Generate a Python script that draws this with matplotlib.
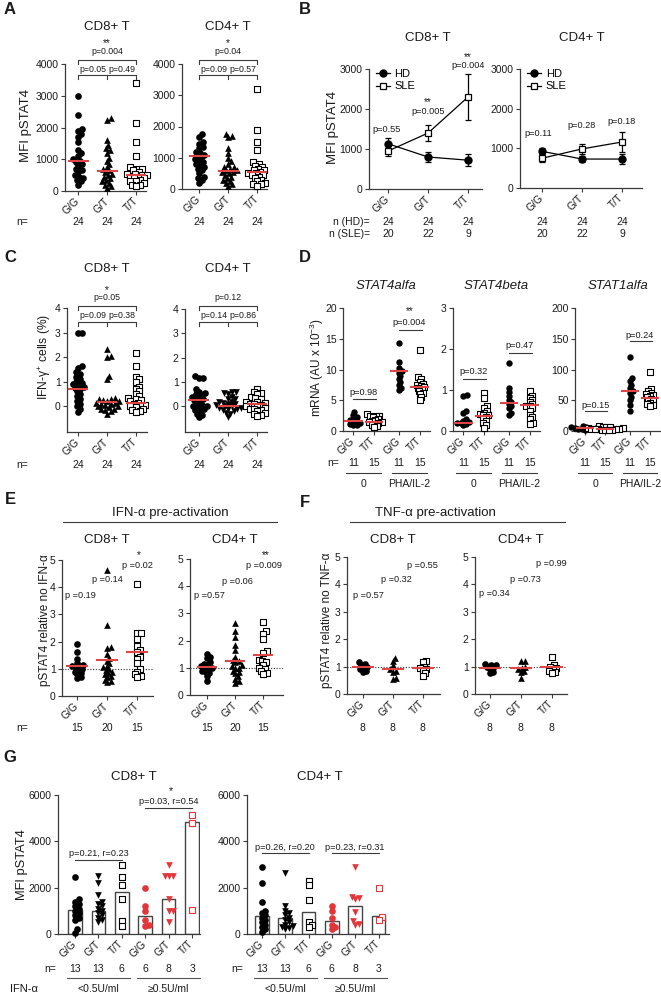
import numpy as np
import matplotlib
matplotlib.use('Agg')
import matplotlib.pyplot as plt
from matplotlib.transforms import blended_transform_factory
from matplotlib.lines import Line2D

plt.rcParams['font.family'] = ['Liberation Sans', 'DejaVu Sans']
plt.rcParams['mathtext.fontset'] = 'custom'
plt.rcParams['mathtext.rm'] = 'Liberation Sans'
plt.rcParams['mathtext.it'] = 'Liberation Sans:italic'

# ------------------------------------------------------------------ DATA
genotypes = ['G/G', 'G/T', 'T/T']

# Panel A : MFI pSTAT4 (HD)
a_cd8_gg = [3000, 2400, 1950, 1900, 1800, 1700, 1550, 1300, 1200, 1100, 1000, 950,
            900, 850, 800, 700, 650, 600, 500, 450, 400, 350, 300, 200]
a_cd8_gt = [2300, 2250, 1600, 1450, 1350, 1300, 1200, 1050, 950, 850, 750, 700,
            650, 600, 550, 500, 450, 400, 350, 300, 250, 200, 150, 100]
a_cd8_tt = [3400, 2150, 1550, 1100, 750, 700, 700, 650, 600, 550, 550, 500,
            500, 450, 450, 400, 400, 350, 300, 300, 250, 200, 200, 150]
a_cd8_med = [930, 620, 500]
a_cd4_gg = [1750, 1650, 1500, 1450, 1350, 1300, 1200, 1150, 1100, 1050, 1000, 950,
            900, 850, 800, 750, 700, 650, 600, 500, 400, 350, 300, 200]
a_cd4_gt = [1750, 1700, 1650, 1300, 1150, 1000, 900, 800, 700, 700, 650, 600,
            600, 550, 550, 500, 450, 400, 350, 300, 250, 200, 150, 100]
a_cd4_tt = [3200, 1900, 1500, 1250, 850, 800, 750, 700, 650, 600, 600, 550,
            500, 500, 450, 450, 400, 350, 300, 250, 200, 150, 150, 100]
a_cd4_med = [1050, 580, 550]
a_n = [24, 24, 24]
a_p_top = ['p=0.004', 'p=0.04']
a_star = ['**', '*']
a_p_low = [['p=0.05', 'p=0.49'], ['p=0.09', 'p=0.57']]

# Panel B : mean +/- SEM
b_cd8_hd = [1130, 800, 720]
b_cd8_hd_err = [150, 120, 150]
b_cd8_sle = [950, 1400, 2300]
b_cd8_sle_err = [130, 190, 580]
b_cd4_hd = [925, 730, 730]
b_cd4_hd_err = [80, 70, 130]
b_cd4_sle = [750, 985, 1160]
b_cd4_sle_err = [100, 130, 260]
b_n_hd = [24, 24, 24]
b_n_sle = [20, 22, 9]
b_cd8_p = ['p=0.55', 'p=0.005', 'p=0.004']
b_cd8_star = ['', '**', '**']
b_cd4_p = ['p=0.11', 'p=0.28', 'p=0.18']

# Panel C : IFN-gamma+ cells (%)
c_cd8_gg = [3.0, 3.0, 1.65, 1.55, 1.4, 1.3, 1.2, 1.1, 1.0, 0.95, 0.9, 0.85,
            0.8, 0.75, 0.7, 0.6, 0.5, 0.4, 0.3, 0.2, 0.1, 0.0, -0.1, -0.25]
c_cd8_gt = [2.35, 2.05, 2.0, 1.25, 1.1, 0.35, 0.3, 0.3, 0.25, 0.2, 0.2, 0.15,
            0.15, 0.1, 0.1, 0.05, 0.0, 0.0, -0.05, -0.1, -0.1, -0.15, -0.2, -0.3]
c_cd8_tt = [2.15, 1.65, 1.2, 1.1, 1.0, 0.8, 0.7, 0.6, 0.5, 0.4, 0.35, 0.3,
            0.25, 0.2, 0.15, 0.1, 0.05, 0.0, 0.0, -0.05, -0.1, -0.15, -0.2, -0.25]
c_cd8_med = [0.72, 0.18, 0.13]
c_cd4_gg = [1.25, 1.15, 1.15, 0.7, 0.6, 0.55, 0.5, 0.45, 0.4, 0.35, 0.3, 0.25,
            0.2, 0.1, 0.05, 0.0, 0.0, -0.05, -0.1, -0.15, -0.2, -0.3, -0.35, -0.45]
c_cd4_gt = [0.6, 0.6, 0.55, 0.5, 0.4, 0.3, 0.3, 0.2, 0.2, 0.15, 0.1, 0.1,
            0.05, 0.0, 0.0, -0.05, -0.05, -0.1, -0.1, -0.15, -0.2, -0.25, -0.3, -0.45]
c_cd4_tt = [0.7, 0.6, 0.55, 0.5, 0.4, 0.35, 0.3, 0.2, 0.2, 0.15, 0.1, 0.1,
            0.05, 0.0, 0.0, -0.05, -0.1, -0.1, -0.15, -0.2, -0.25, -0.3, -0.35, -0.4]
c_cd4_med = [0.27, 0.0, 0.08]
c_n = [24, 24, 24]
c_p_top = ['p=0.05', 'p=0.12']
c_star = ['*', '']
c_p_low = [['p=0.09', 'p=0.38'], ['p=0.14', 'p=0.86']]

# Panel D : mRNA (AU x 10^-3); groups: 0 G/G, 0 T/T, PHA G/G, PHA T/T
d_labels = ['G/G', 'T/T', 'G/G', 'T/T']
d_n = [11, 15, 11, 15]
d_cond = ['0', 'PHA/IL-2']
s4a_groups = [[3.1, 2.6, 2.2, 2.0, 1.8, 1.65, 1.5, 1.3, 1.2, 1.0, 0.9],
              [2.7, 2.5, 2.5, 2.4, 2.2, 2.0, 1.8, 1.6, 1.45, 1.4, 1.3, 1.2, 1.0, 0.8, 0.6],
              [14.3, 11.3, 10.2, 9.8, 9.5, 9.0, 8.5, 8.0, 7.5, 7.0, 6.6],
              [13.2, 8.8, 8.5, 8.0, 7.7, 7.5, 7.3, 7.2, 7.0, 6.8, 6.5, 6.2, 6.0, 5.5, 5.0]]
s4a_med = [1.65, 1.45, 9.8, 7.1]
s4b_groups = [[0.87, 0.85, 0.5, 0.45, 0.3, 0.25, 0.22, 0.2, 0.2, 0.18, 0.15],
              [0.93, 0.8, 0.6, 0.55, 0.5, 0.45, 0.42, 0.4, 0.38, 0.35, 0.3, 0.25, 0.2, 0.15, 0.08],
              [1.65, 1.05, 0.95, 0.85, 0.75, 0.7, 0.65, 0.6, 0.55, 0.45, 0.4],
              [0.97, 0.85, 0.8, 0.75, 0.7, 0.65, 0.62, 0.6, 0.55, 0.5, 0.4, 0.35, 0.3, 0.2, 0.17]]
s4b_med = [0.2, 0.37, 0.68, 0.64]
s1a_groups = [[8, 7, 6, 6, 5, 5, 4, 4, 3, 3, 2],
              [8, 7, 6, 6, 5, 5, 4, 4, 3, 3, 3, 2, 2, 1, 1],
              [121, 86, 82, 75, 70, 65, 62, 55, 50, 42, 32],
              [96, 68, 65, 62, 60, 58, 57, 55, 52, 50, 48, 46, 44, 42, 40]]
s1a_med = [5, 3.5, 65, 53]
d_p = [['p=0.98', 'p=0.004'], ['p=0.32', 'p=0.47'], ['p=0.15', 'p=0.24']]

# Panel E : IFN-alpha pre-activation
e_cd8 = [[1.9, 1.6, 1.35, 1.2, 1.15, 1.1, 1.1, 1.05, 1.0, 0.95, 0.9, 0.85, 0.8, 0.7, 0.65],
         [4.65, 2.6, 1.8, 1.75, 1.55, 1.4, 1.3, 1.2, 1.1, 1.05, 1.0, 0.95, 0.9, 0.85, 0.8,
          0.75, 0.7, 0.6, 0.55, 0.5],
         [4.1, 2.3, 2.3, 2.1, 1.85, 1.7, 1.6, 1.45, 1.35, 1.2, 1.0, 0.9, 0.8, 0.75, 0.7]]
e_cd8_med = [1.1, 1.32, 1.62]
e_cd4 = [[1.5, 1.4, 1.35, 1.2, 1.15, 1.1, 1.05, 1.0, 1.0, 0.95, 0.9, 0.85, 0.8, 0.7, 0.5],
         [2.65, 2.35, 2.15, 1.85, 1.65, 1.4, 1.3, 1.25, 1.2, 1.1, 1.05, 1.0, 1.0, 0.9, 0.85,
          0.8, 0.7, 0.6, 0.5, 0.45],
         [2.7, 2.35, 2.25, 2.05, 1.6, 1.55, 1.3, 1.25, 1.2, 1.1, 1.0, 0.95, 0.9, 0.8, 0.78]]
e_cd4_med = [1.02, 1.26, 1.48]
e_n = [15, 20, 15]
e_cd8_p = ['p =0.19', 'p =0.14', 'p =0.02']
e_cd8_star = ['', '', '*']
e_cd4_p = ['p =0.57', 'p =0.06', 'p =0.009']
e_cd4_star = ['', '', '**']

# Panel F : TNF-alpha pre-activation
f_cd8 = [[1.15, 1.1, 1.05, 1.0, 0.95, 0.9, 0.85, 0.8],
         [1.3, 1.2, 1.05, 0.9, 0.85, 0.8, 0.6, 0.55],
         [1.2, 1.15, 1.0, 0.95, 0.9, 0.85, 0.75, 0.65]]
f_cd8_med = [0.97, 0.9, 0.95]
f_cd4 = [[1.1, 1.05, 1.05, 1.0, 0.95, 0.9, 0.8, 0.75],
         [1.2, 1.2, 1.0, 0.95, 0.9, 0.85, 0.8, 0.6],
         [1.35, 1.05, 1.0, 0.95, 0.9, 0.85, 0.8, 0.75]]
f_cd4_med = [0.96, 0.95, 1.0]
f_n = [8, 8, 8]
f_cd8_p = ['p =0.57', 'p =0.32', 'p =0.55']
f_cd4_p = ['p =0.34', 'p =0.73', 'p =0.99']

# Panel G : by serum IFN-alpha level (3 low + 3 high groups)
g_labels = ['G/G', 'G/T', 'T/T', 'G/G', 'G/T', 'T/T']
g_n = [13, 13, 6, 6, 8, 3]
g_cd8_bar = [1050, 1000, 1800, 780, 1520, 4830]
g_cd8_pts = [[2450, 1500, 1400, 1300, 1200, 1100, 1000, 900, 800, 700, 600, 200, 50],
             [2500, 2200, 1700, 1400, 1300, 1200, 1100, 1000, 900, 800, 700, 600, 500],
             [3000, 2450, 2100, 1500, 550, 350],
             [2000, 1200, 1000, 600, 400, 350],
             [3000, 2500, 2500, 2500, 1500, 1000, 1000, 500],
             [5150, 4800, 1050]]
g_cd4_bar = [780, 680, 950, 560, 1230, 760]
g_cd4_pts = [[2900, 2200, 1400, 1000, 900, 800, 700, 600, 500, 400, 300, 200, 100],
             [2650, 1200, 1000, 900, 800, 700, 600, 500, 400, 350, 300, 250, 200],
             [2300, 2100, 1450, 500, 400, 300],
             [1200, 1000, 700, 400, 300, 200],
             [2900, 1600, 1550, 1500, 950, 550, 450, 400],
             [2000, 750, 620]]
g_cd8_p = ['p=0.21, r=0.23', 'p=0.03, r=0.54']
g_cd8_star = ['', '*']
g_cd4_p = ['p=0.26, r=0.20', 'p=0.23, r=0.31']
g_levels = ['<0.5U/ml', '≥0.5U/ml']

# ------------------------------------------------------------------ STYLE
W, H = 661, 993
fig = plt.figure(figsize=(W / 100, H / 100), dpi=100)
RED = '#e3363a'
MED = '#e04545'
TXT = '#1a1a1a'
AX = '#3a3a3a'
FS_T = 9.5    # titles
FS_K = 7.5    # ticks
FS_P = 6.3    # p-values
FS_N = 7.5    # n rows
FS_Y = 9.0    # y labels


def fx(x): return x / W
def fy(y): return 1 - y / H


def ftext(x, y, s, **kw):
    kw.setdefault('ha', 'center'); kw.setdefault('va', 'center'); kw.setdefault('color', TXT)
    fig.text(fx(x), fy(y), s, **kw)


def fline(xs, ys, **kw):
    kw.setdefault('color', AX); kw.setdefault('lw', 0.8)
    fig.add_artist(Line2D([fx(v) for v in xs], [fy(v) for v in ys], transform=fig.transFigure, **kw))


def bt(ax):
    return blended_transform_factory(ax.transData, fig.transFigure)


def atext(ax, x, y, s, **kw):
    kw.setdefault('ha', 'center'); kw.setdefault('va', 'center'); kw.setdefault('color', TXT)
    ax.text(x, fy(y), s, transform=bt(ax), clip_on=False, **kw)


def aline(ax, xs, ys, **kw):
    kw.setdefault('color', AX); kw.setdefault('lw', 0.8)
    ax.plot(xs, [fy(v) for v in ys], transform=bt(ax), clip_on=False, **kw)


def add_ax(box, xlim, ylim, yticks):
    l, t, r, b = box
    ax = fig.add_axes([l / W, 1 - b / H, (r - l) / W, (b - t) / H])
    ax.set_xlim(xlim); ax.set_ylim(ylim); ax.set_yticks(yticks)
    for s in ['top', 'right']:
        ax.spines[s].set_visible(False)
    for s in ['left', 'bottom']:
        ax.spines[s].set_linewidth(0.9); ax.spines[s].set_color(AX)
    ax.tick_params(axis='both', length=3, width=0.8, color=AX, labelsize=FS_K, pad=1.5,
                   labelcolor=TXT)
    return ax


def set_cats(ax, pos, labels):
    ax.set_xticks(pos)
    ax.set_xticklabels(labels, rotation=45, ha='right', va='center', rotation_mode='anchor',
                       fontsize=FS_K)
    ax.tick_params(axis='x', pad=3)


def swarm(ax, x0, vals, d):
    vals = np.asarray(vals, float)
    disp = ax.transData.transform(np.column_stack([np.full(len(vals), x0), vals]))
    order = np.argsort(disp[:, 1])
    cands = [0.0]
    for k in range(1, 80):
        cands += [k * 0.5, -k * 0.5]
    placed = []
    xo = np.zeros(len(vals))
    for i in order:
        y = disp[i, 1]
        for c in cands:
            if all((c - px) ** 2 + (y - py) ** 2 >= d * d for px, py in placed):
                break
        placed.append((c, y))
        xo[i] = c
    out = ax.transData.inverted().transform(np.column_stack([disp[:, 0] + xo, disp[:, 1]]))
    return out[:, 0]


def dots(ax, x0, vals, marker, color='black', open_=False, ms=4.8, spread=0.6):
    xs = swarm(ax, x0, vals, ms * 100 / 72 * spread)
    if open_:
        ax.scatter(xs, vals, s=ms ** 2, marker=marker, facecolors='white', edgecolors=color,
                   linewidths=0.8, zorder=3, clip_on=False)
    else:
        ax.scatter(xs, vals, s=ms ** 2, marker=marker, color=color, linewidths=0, zorder=3,
                   clip_on=False)


def median(ax, x0, m, hw=0.36):
    ax.plot([x0 - hw, x0 + hw], [m, m], color=MED, lw=1.5, zorder=4, solid_capstyle='butt')


def bracket(ax, xa, xb, y, mids=(), drop=3):
    aline(ax, [xa, xa, xb, xb], [y + drop, y, y, y + drop])
    for m in mids:
        aline(ax, [m, m], [y, y + drop])


def nrow(ax, xs, vals, y):
    for x, v in zip(xs, vals):
        atext(ax, x, y, str(v), fontsize=FS_N)


MARKERS = [('o', False), ('^', False), ('s', True)]

# ------------------------------------------------------------------ PANEL A
ftext(10, 10, 'A', fontsize=12, fontweight='bold')
boxes = [(65, 64, 146, 191), (182, 64, 267, 189)]
xlims = [(-0.45, 2.34), (-0.59, 2.34)]
titles = ['CD8+ T', 'CD4+ T']
adata = [[a_cd8_gg, a_cd8_gt, a_cd8_tt], [a_cd4_gg, a_cd4_gt, a_cd4_tt]]
ameds = [a_cd8_med, a_cd4_med]
for k in range(2):
    ax = add_ax(boxes[k], xlims[k], (0, 4000), [0, 1000, 2000, 3000, 4000])
    set_cats(ax, [0, 1, 2], genotypes)
    for i in range(3):
        mk, op = MARKERS[i]
        dots(ax, i, adata[k][i], mk, open_=op)
        median(ax, i, ameds[k][i])
    atext(ax, 1, 27, titles[k], fontsize=FS_T)
    atext(ax, 1, 43, a_star[k], fontsize=FS_P + 1)
    atext(ax, 1, 52, a_p_top[k], fontsize=FS_P)
    bracket(ax, 0, 2, 60, drop=4)
    atext(ax, 0.5, 69, a_p_low[k][0], fontsize=FS_P)
    atext(ax, 1.5, 69, a_p_low[k][1], fontsize=FS_P)
    bracket(ax, 0, 2, 75, mids=[1], drop=4)
    nrow(ax, [0, 1, 2], a_n, 222)
    if k == 0:
        ftext(26, 125, 'MFI pSTAT4', rotation=90, fontsize=FS_Y + 0.5)
ftext(22, 222, 'n=', fontsize=FS_N)

# ------------------------------------------------------------------ PANEL B
ftext(305, 10, 'B', fontsize=12, fontweight='bold')
boxes = [(369, 69, 482, 189), (520, 69, 642, 188)]
xlims = [(-0.48, 2.35), (-0.55, 2.5)]
bdata = [(b_cd8_hd, b_cd8_hd_err, b_cd8_sle, b_cd8_sle_err),
         (b_cd4_hd, b_cd4_hd_err, b_cd4_sle, b_cd4_sle_err)]
for k in range(2):
    ax = add_ax(boxes[k], xlims[k], (0, 3000), [0, 1000, 2000, 3000])
    set_cats(ax, [0, 1, 2], genotypes)
    hd, hde, sle, slee = bdata[k]
    e1 = ax.errorbar([0, 1, 2], hd, yerr=hde, fmt='-o', color='black', ms=5, lw=0.9,
                     elinewidth=0.9, capsize=2.5, capthick=0.9, zorder=3, clip_on=False)
    e2 = ax.errorbar([0, 1, 2], sle, yerr=slee, fmt='-s', color='black', mfc='white', mec='black',
                     mew=0.9, ms=5, lw=0.9, elinewidth=0.9, capsize=2.5, capthick=0.9, zorder=4,
                     clip_on=False)
    ax.legend([e1[0], e2[0]], ['HD', 'SLE'], loc='upper left', bbox_to_anchor=(0.02, 1.04),
              frameon=False, fontsize=8, handlelength=1.3, handletextpad=0.4,
              labelspacing=0.25, borderaxespad=0)
    atext(ax, 1, 38, titles[k], fontsize=FS_T)
    nrow(ax, [0, 1, 2], b_n_hd, 222)
    nrow(ax, [0, 1, 2], b_n_sle, 234)
    if k == 0:
        for i, (p, st, y) in enumerate(zip(b_cd8_p, b_cd8_star, [130, 111, 66])):
            atext(ax, i - 0.05 if i == 0 else i, y, p, fontsize=FS_P + 0.3)
            if st:
                atext(ax, i, y - 9, st, fontsize=FS_P + 1)
        ftext(333, 128, 'MFI pSTAT4', rotation=90, fontsize=FS_Y + 0.5)
    else:
        for i, (p, y) in enumerate(zip(b_cd4_p, [133, 125, 121])):
            atext(ax, i - 0.1 if i == 0 else i, y, p, fontsize=FS_P + 0.3)
ftext(370, 222, 'n (HD)=', ha='right', fontsize=FS_N)
ftext(370, 234, 'n (SLE)=', ha='right', fontsize=FS_N)

# ------------------------------------------------------------------ PANEL C
ftext(10, 258, 'C', fontsize=12, fontweight='bold')
boxes = [(67, 308, 147, 432), (185, 309, 267, 432)]
xlims = [(-0.38, 2.38), (-0.48, 2.34)]
cdata = [[c_cd8_gg, c_cd8_gt, c_cd8_tt], [c_cd4_gg, c_cd4_gt, c_cd4_tt]]
cmeds = [c_cd8_med, c_cd4_med]
for k in range(2):
    ax = add_ax(boxes[k], xlims[k], (-1.05, 4), [0, 1, 2, 3, 4])
    set_cats(ax, [0, 1, 2], genotypes)
    mks = [('o', False), ('^' if k == 0 else 'v', False), ('s', True)]
    for i in range(3):
        dots(ax, i, cdata[k][i], mks[i][0], open_=mks[i][1])
        median(ax, i, cmeds[k][i])
    atext(ax, 1, 269, titles[k], fontsize=FS_T)
    if c_star[k]:
        atext(ax, 1, 290, c_star[k], fontsize=FS_P + 1)
    atext(ax, 1, 298, c_p_top[k], fontsize=FS_P)
    bracket(ax, 0, 2, 306, drop=4)
    atext(ax, 0.5, 316, c_p_low[k][0], fontsize=FS_P)
    atext(ax, 1.5, 316, c_p_low[k][1], fontsize=FS_P)
    bracket(ax, 0, 2, 322, mids=[1], drop=4)
    nrow(ax, [0, 1, 2], c_n, 465)
ftext(45, 357, 'IFN-γ$^{+}$ cells (%)', rotation=90, fontsize=FS_Y - 0.3)
ftext(22, 465, 'n=', fontsize=FS_N)

# ------------------------------------------------------------------ PANEL D
ftext(305, 258, 'D', fontsize=12, fontweight='bold')
dpos = [0, 1, 2.2, 3.2]
boxes = [(343, 308, 430, 431), (453, 308, 540, 431), (575, 308, 660, 431)]
dsets = [(s4a_groups, s4a_med, (0, 20), [0, 5, 10, 15, 20], 'STAT4alfa'),
         (s4b_groups, s4b_med, (0, 3), [0, 1, 2, 3], 'STAT4beta'),
         (s1a_groups, s1a_med, (0, 200), [0, 50, 100, 150, 200], 'STAT1alfa')]
dp_y = [[(393, 399), (323, 330)], [(372, 379), (345, 353)], [(405, 411), (335, 341)]]
for k in range(3):
    groups, meds, ylim, yt, ttl = dsets[k]
    ax = add_ax(boxes[k], (-0.5, 3.7), ylim, yt)
    set_cats(ax, dpos, d_labels)
    for i in range(4):
        mk, op = ('o', False) if i % 2 == 0 else ('s', True)
        dots(ax, dpos[i], groups[i], mk, open_=op, ms=4.6, spread=0.5)
        median(ax, dpos[i], meds[i], hw=0.45)
    atext(ax, 1.6, 286, ttl, fontsize=FS_T, style='italic')
    for j in range(2):
        ty, ly = dp_y[k][j]
        xa, xb = dpos[2 * j], dpos[2 * j + 1]
        atext(ax, (xa + xb) / 2, ty, d_p[k][j], fontsize=FS_P + 0.3)
        aline(ax, [xa, xb + 0.1], [ly, ly])
    if k == 0:
        atext(ax, 2.7, 311, '**', fontsize=FS_P + 1)
    nrow(ax, dpos, d_n, 463)
    for j in range(2):
        xa, xb = dpos[2 * j], dpos[2 * j + 1]
        aline(ax, [xa - 0.35, xb + 0.35], [473, 473])
        atext(ax, (xa + xb) / 2, 484, d_cond[j], fontsize=FS_N)
ftext(333, 463, 'n=', fontsize=FS_N)
ftext(317, 368, 'mRNA (AU x 10$^{-3}$)', rotation=90, fontsize=FS_Y - 0.5)

# ------------------------------------------------------------------ PANEL E / F
ftext(10, 500, 'E', fontsize=12, fontweight='bold')
ftext(305, 502, 'F', fontsize=12, fontweight='bold')
ftext(170, 513, 'IFN-α pre-activation', fontsize=FS_T)
fline([63, 277], [522, 522])
ftext(435, 513, 'TNF-α pre-activation', fontsize=FS_T)
fline([350, 565], [522, 522])

ef_sets = [
    ((62, 560, 153, 696), (-0.5, 2.53), e_cd8, e_cd8_med, e_cd8_p, e_cd8_star,
     [(0.1, 596), (1.0, 579), (2.0, 565)], 'CD8+ T', e_n),
    ((190, 559, 283, 695), (-0.6, 2.7), e_cd4, e_cd4_med, e_cd4_p, e_cd4_star,
     [(0.1, 595), (1.1, 581), (2.04, 565)], 'CD4+ T', e_n),
    ((347, 557, 440, 694), (-0.53, 2.57), f_cd8, f_cd8_med, f_cd8_p, ['', '', ''],
     [(0.17, 595), (1.1, 579), (2.0, 565)], 'CD8+ T', f_n),
    ((475, 557, 567, 694), (-0.48, 2.5), f_cd4, f_cd4_med, f_cd4_p, ['', '', ''],
     [(0.13, 594), (1.15, 579), (2.0, 564)], 'CD4+ T', f_n),
]
for box, xl, data, meds, ps, stars, ppos, ttl, ns in ef_sets:
    ax = add_ax(box, xl, (0, 5), [0, 1, 2, 3, 4, 5])
    set_cats(ax, [0, 1, 2], genotypes)
    ax.axhline(1, ls=(0, (1, 1.5)), color='#333333', lw=0.8, zorder=1)
    for i in range(3):
        mk, op = MARKERS[i]
        dots(ax, i, data[i], mk, open_=op, spread=0.55)
        median(ax, i, meds[i])
    for (x, y), p, st in zip(ppos, ps, stars):
        atext(ax, x, y, p, fontsize=FS_P + 0.3)
        if st:
            atext(ax, x + 0.05, y - 10, st, fontsize=FS_P + 1)
    atext(ax, 1, 540, ttl, fontsize=FS_T)
    nrow(ax, [0, 1, 2], ns, 728)
ftext(22, 728, 'n=', fontsize=FS_N)
ftext(45, 620, 'pSTAT4 relative no IFN-α', rotation=90, fontsize=FS_Y - 0.5)
ftext(327, 620, 'pSTAT4 relative no TNF-α', rotation=90, fontsize=FS_Y - 0.5)

# ------------------------------------------------------------------ PANEL G
ftext(10, 757, 'G', fontsize=12, fontweight='bold')
gx = [0, 1, 2, 3, 4, 5]
gmk = [('o', False), ('v', False), ('s', True)] * 2
gsets = [((58, 795, 200, 934), (-0.73, 5.34), g_cd8_bar, g_cd8_pts, g_cd8_p, g_cd8_star,
          [(853, 860), (802, 808)], 'CD8+ T'),
         ((247, 795, 389, 934), (-0.64, 5.45), g_cd4_bar, g_cd4_pts, g_cd4_p, ['', ''],
          [(847, 853), (847, 853)], 'CD4+ T')]
for k, (box, xl, bars, pts, ps, stars, pys, ttl) in enumerate(gsets):
    ax = add_ax(box, xl, (0, 6000), [0, 2000, 4000, 6000])
    set_cats(ax, gx, g_labels)
    ax.bar(gx, bars, width=0.58, facecolor='white', edgecolor='#444444', lw=1.0, zorder=2)
    for i in range(6):
        col = 'black' if i < 3 else RED
        dots(ax, gx[i], pts[i], gmk[i][0], color=col, open_=gmk[i][1], ms=4.8, spread=0.6)
    atext(ax, 2.5, 777, ttl, fontsize=FS_T)
    for j in range(2):
        ty, ly = pys[j]
        atext(ax, 1 + 3 * j, ty, ps[j], fontsize=FS_P + 0.3)
        aline(ax, [3 * j, 3 * j + 2], [ly, ly])
        if stars[j]:
            atext(ax, 1 + 3 * j + 0.1, ty - 11, stars[j], fontsize=FS_P + 1.5)
    nrow(ax, gx, g_n, 969)
    for j in range(2):
        aline(ax, [3 * j - 0.35, 3 * j + 2.35], [978, 978], color='#555555')
        atext(ax, 3 * j + 1, 989, g_levels[j], fontsize=FS_N)
    atext(ax, -0.8, 969, 'n=', fontsize=FS_N, ha='right')
    if k == 0:
        ftext(22, 865, 'MFI pSTAT4', rotation=90, fontsize=FS_Y + 0.3)
ftext(10, 989, 'IFN-α', fontsize=FS_N + 0.5, ha='left')

fig.savefig('out.png', dpi=100)
